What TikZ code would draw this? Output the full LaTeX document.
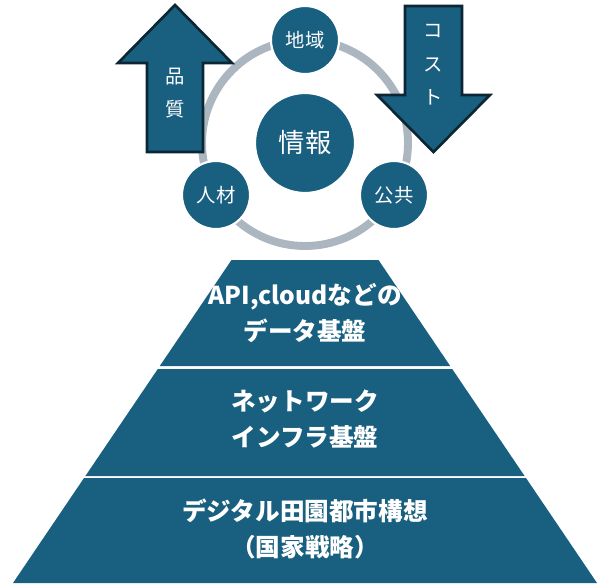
\documentclass[tikz,border=0pt]{standalone}
\usepackage{fontspec}
\setmainfont{Noto Sans CJK JP}
\definecolor{deepblue}{RGB}{24,95,128}
\definecolor{ringgray}{RGB}{172,182,192}
\definecolor{arrowedge}{RGB}{12,38,52}

\begin{document}
\begin{tikzpicture}[
    x=0.02cm,y=-0.02cm,
    band/.style={fill=deepblue},
    bandtext/.style={text=white,align=center,font=\bfseries\fontsize{14}{20}\selectfont},
    ring/.style={draw=ringgray,line width=4.5pt},
    hub/.style={circle,fill=deepblue,draw=white,line width=1.2pt,minimum size=2cm,inner sep=0pt,text=white,font=\fontsize{15}{18}\selectfont},
    spoke/.style={circle,fill=deepblue,draw=white,line width=1.2pt,minimum size=1.36cm,inner sep=0pt,text=white,font=\fontsize{11}{13}\selectfont},
    bigarrow/.style={fill=deepblue,draw=arrowedge,line width=1.5pt,line join=miter},
    arrowtext/.style={text=white,align=center,font=\fontsize{11}{19}\selectfont},
]
\useasboundingbox (0,0) rectangle (598,585);

% pyramid
\fill[band] (231.5,260) -- (378.5,260) -- (450.2,366) -- (159.8,366) -- cycle;
\fill[band] (157.8,369) -- (452.2,369) -- (524.6,476) -- (85.4,476) -- cycle;
\fill[band] (84,478) -- (526,478) -- (597,583) -- (13,583) -- cycle;

\node[bandtext] (data) at (305,313) {API,cloudなどの\\データ基盤};
\node[bandtext] (network) at (305,419) {ネットワーク\\インフラ基盤};
\node[bandtext] (vision) at (305,529) {デジタル田園都市構想\\（国家戦略）};

% cycle
\coordinate (centre) at (305,143);
\draw[ring] (centre) circle[radius=103];

\draw[bigarrow] (175,5) -- (232,63) -- (203,63) -- (203,152) -- (147,152) -- (147,63) -- (118,63) -- cycle;
\draw[bigarrow] (405,6) -- (462,6) -- (462,95) -- (490,95) -- (433.5,152) -- (377,95) -- (405,95) -- cycle;
\node[arrowtext] (quality) at (175,93) {品\\質};
\node[arrowtext] (cost) at (433,65) {コ\\ス\\ト};

\node[hub] (info) at (centre) {情報};
\node[spoke] (region) at (305,40) {地域};
\node[spoke] (people) at (216,195) {人材};
\node[spoke] (public) at (394,195) {公共};
\end{tikzpicture}
\end{document}
